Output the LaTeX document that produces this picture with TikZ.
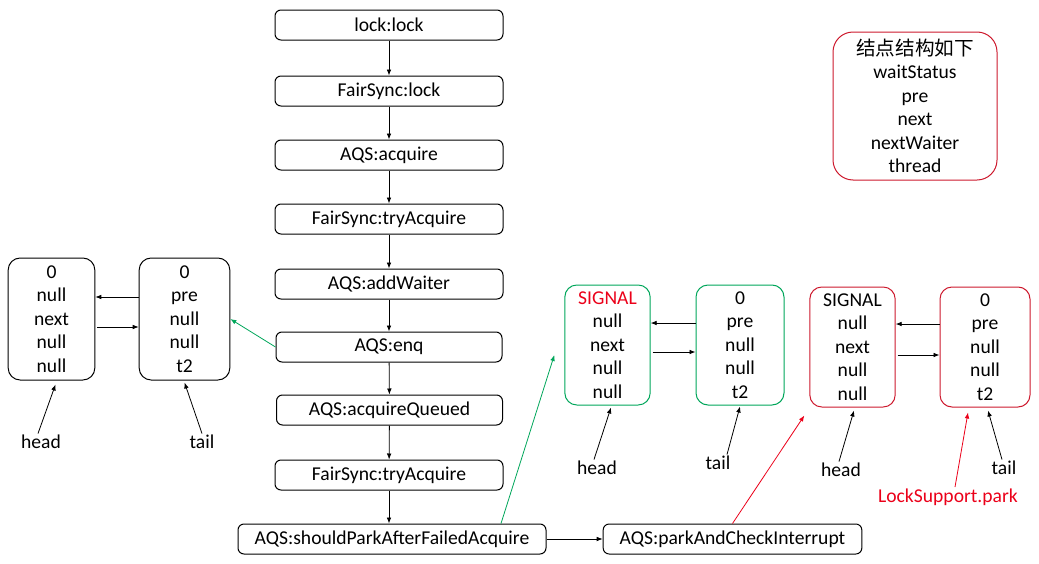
\documentclass[tikz,border=0pt]{standalone}
\usepackage{fontspec}
\setmainfont{Carlito}
\newfontfamily\cjk{Noto Sans CJK SC}
\usetikzlibrary{arrows.meta,calc}

\definecolor{qgreen}{RGB}{0,166,90}
\definecolor{qred}{RGB}{205,25,45}
\definecolor{txtred}{RGB}{235,0,25}

\tikzset{
  callbox/.style={draw, line width=0.75pt, rounded corners=4.5pt, minimum width=171pt, minimum height=22.5pt, inner sep=0pt},
  qnode/.style={draw, line width=0.75pt, rounded corners=9pt, minimum width=65pt, minimum height=91.5pt, align=center, inner sep=0pt},
  link/.style={line width=0.6pt, -{Latex[length=4.5pt,width=3.5pt]}},
  plain/.style={inner sep=1pt}
}

\begin{document}
\begin{tikzpicture}[x=0.75pt,y=0.75pt,yscale=-1,xscale=1,font=\fontsize{14.7}{17.6}\selectfont]
\useasboundingbox (0,0) rectangle (1039,564);

%Call chain
\node[callbox] (ll) at (389,25) {lock:lock};
\node[callbox] (fl) at (389,91) {FairSync:lock};
\node[callbox] (acq) at (389,155) {AQS:acquire};
\node[callbox] (fta) at (389,219) {FairSync:tryAcquire};
\node[callbox] (aw) at (389,284) {AQS:addWaiter};
\node[callbox, minimum width=169.5pt] (enq) at (389,347) {AQS:enq};
\node[callbox, minimum width=169.5pt] (aq) at (389.5,410) {AQS:acquireQueued};
\node[callbox] (ftb) at (389,475) {FairSync:tryAcquire};
\node[callbox, minimum width=231pt] (sp) at (392,539) {AQS:shouldParkAfterFailedAcquire};
\node[callbox, minimum width=194pt] (pc) at (732.5,539) {AQS:parkAndCheckInterrupt};

\draw[link] (ll) -- (fl);
\draw[link] (fl) -- (acq);
\draw[link] (acq) -- (fta);
\draw[link] (fta) -- (aw);
\draw[link] (aw) -- (enq);
\draw[link] (enq) -- (aq);
\draw[link] (aq) -- (ftb);
\draw[link] (ftb.south) -- (ftb.south |- sp.north);
\draw[link] (sp) -- (pc);

%Queue after enq
\node[qnode] (na) at (51.5,319) {0\\null\\next\\null\\null};
\node[qnode, minimum width=68pt] (nb) at (184.5,319) {0\\pre\\null\\null\\t2};
\draw[link] ($(nb.west)+(0,-22)$) -- ($(na.east)+(0,-22)$);
\draw[link] ($(na.east)+(2,8)$) -- ($(nb.west)+(0,8)$);
\node[plain] (hla) at (41,442) {head};
\node[plain] (tla) at (202,442) {tail};
\draw[link] ($(hla.north)+(-3,0)$) -- ($(na.south)+(4,4)$);
\draw[link] (tla.north) -- ($(nb.south)+(0,2)$);
\draw[link, qgreen] (enq.west) -- (nb.east);

%Queue after shouldParkAfterFailedAcquire
\node[qnode, draw=qgreen, minimum width=64pt, minimum height=90pt] (ga) at (607.5,345) {{\color{txtred}SIGNAL}\\null\\next\\null\\null};
\node[qnode, draw=qgreen, minimum width=66pt, minimum height=90pt] (gb) at (740,345) {0\\pre\\null\\null\\t2};
\draw[link] ($(gb.west)+(0,-22)$) -- ($(ga.east)+(0,-22)$);
\draw[link] ($(ga.east)+(2,7)$) -- ($(gb.west)+(0,7)$);
\node[plain] (hlg) at (597,468) {head};
\node[plain] (tlg) at (718,463) {tail};
\draw[link] ($(hlg.north)+(-3,0)$) -- ($(ga.south)+(3.5,2)$);
\draw[link] ($(tlg.north)+(9,0)$) -- ($(gb.south)+(0,1)$);
\draw[link, qgreen] ($(sp.north)+(109,0)$) -- ($(ga.west)+(-10,10)$);

%Queue after parkAndCheckInterrupt
\node[qnode, draw=qred, minimum width=64pt, minimum height=90pt] (ra) at (852.5,347) {SIGNAL\\null\\next\\null\\null};
\node[qnode, draw=qred, minimum width=67.5pt, minimum height=90pt] (rb) at (985,347) {0\\pre\\null\\null\\t2};
\draw[link] ($(rb.west)+(0,-23)$) -- ($(ra.east)+(0,-23)$);
\draw[link] ($(ra.east)+(2,8)$) -- ($(rb.west)+(0,8)$);
\node[plain] (hlr) at (841,470) {head};
\node[plain] (tlr) at (1004,468) {tail};
\node[plain, text=txtred] (ls) at (948,497) {LockSupport.park};
\draw[link] ($(hlr.north)+(-2,0)$) -- ($(ra.south)+(1.5,3)$);
\draw[link] ($(tlr.north)+(-2,0)$) -- ($(rb.south)+(3,3)$);
\draw[link, txtred] ($(ls.north)+(7,0)$) -- ($(rb.south)+(-17,5)$);
\draw[link, txtred] (pc.north) -- ($(ra.south west)+(-5,8)$);

%Legend
\node[draw=qred, line width=0.75pt, rounded corners=15pt, minimum width=123pt, minimum height=111pt, align=center, inner sep=0pt] (lg) at (915,106) {{\cjk 结点结构如下}\\waitStatus\\pre\\next\\nextWaiter\\thread};

\end{tikzpicture}
\end{document}
